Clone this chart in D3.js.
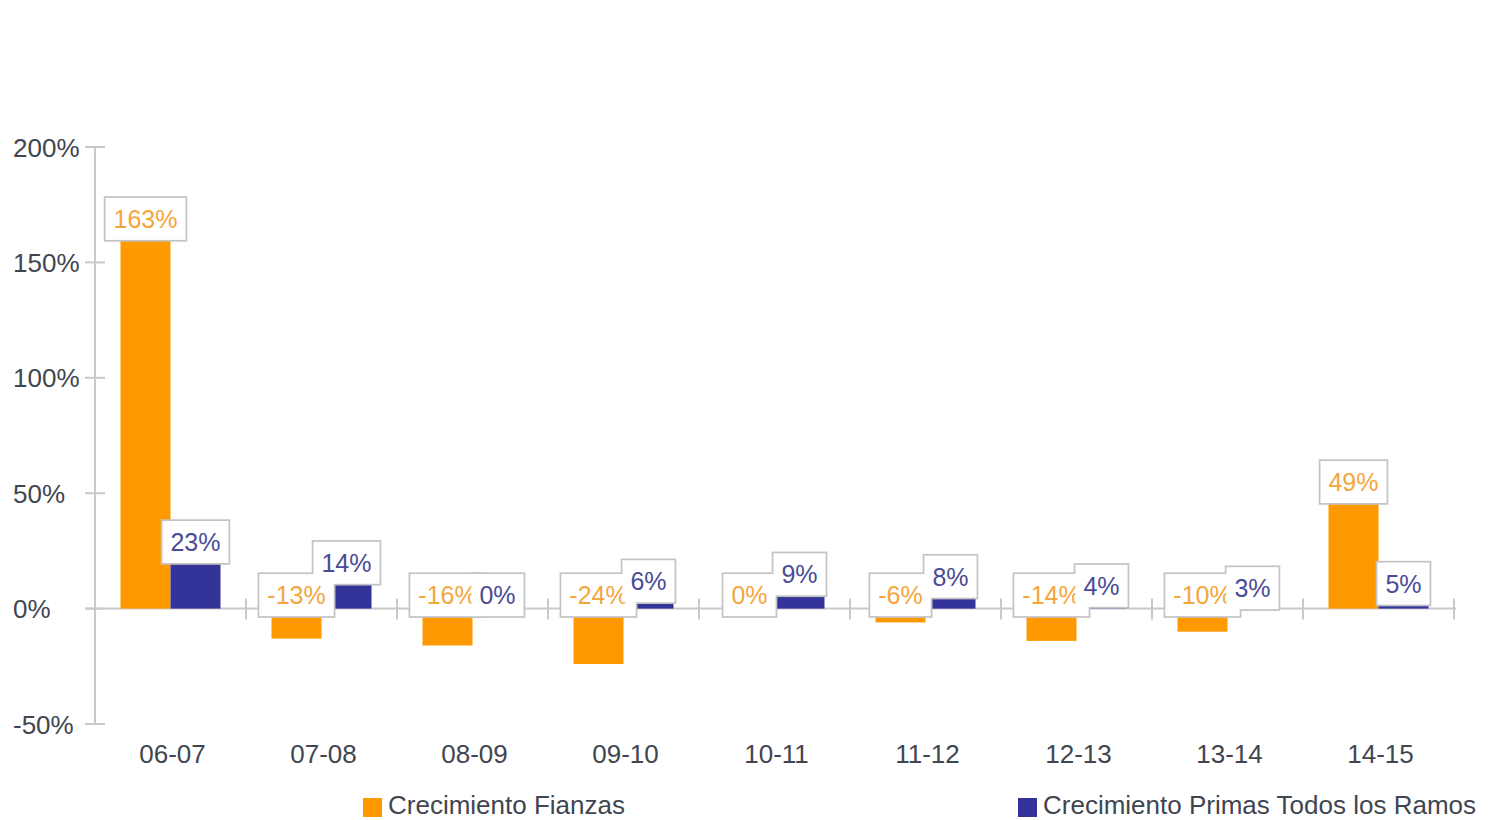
<!DOCTYPE html>
<html><head><meta charset="utf-8">
<script src="https://cdn.jsdelivr.net/npm/d3@7"></script>
<style>
body{margin:0;background:#fff;}
svg text{font-family:"Liberation Sans",Arial,sans-serif;}
</style></head>
<body><svg id="c" width="1491" height="820"></svg>
<script>
const categories = ["06-07","07-08","08-09","09-10","10-11","11-12","12-13","13-14","14-15"];
const fianzas = [163,-13,-16,-24,0,-6,-14,-10,49];
const primas = [23,14,0,6,9,8,4,3,5];
const seriesNames = ["Crecimiento Fianzas","Crecimiento Primas Todos los Ramos"];
const seriesColors = ["#ff9900","#333399"];
const labelColors = ["#f4a63c","#4b4b97"];
const yTicks = [-50,0,50,100,150,200];

const svg = d3.select("#c");
const axisColor = "#c9c9c9", textColor = "#3f4650";
const y = d3.scaleLinear().domain([-50,200]).range([724,147]);
const x = d3.scaleBand().domain(categories).range([95,1454]);
const x1 = d3.scaleBand().domain([0,1]).range([0,x.bandwidth()]).paddingOuter(0.51);
const data = categories.map((c,i)=>({c, v:[fianzas[i],primas[i]]}));

// y axis
const ya = svg.append("g").attr("transform","translate(95,0)")
  .call(d3.axisLeft(y).tickValues(yTicks).tickSize(0).tickFormat(d=>d+"%"));
ya.select(".domain").remove();
ya.selectAll("text").attr("x",-82).attr("text-anchor","start").attr("dy","0.35em")
  .attr("font-size",26).attr("fill",textColor).style("font-family",'"Liberation Sans",Arial,sans-serif');
svg.append("line").attr("x1",95).attr("x2",95).attr("y1",y(200)).attr("y2",y(-50)).attr("stroke",axisColor).attr("stroke-width",2);
svg.selectAll(".yt").data(yTicks).join("line").attr("x1",85).attr("x2",105)
  .attr("y1",d=>y(d)).attr("y2",d=>y(d)).attr("stroke",axisColor).attr("stroke-width",2);

// x axis
svg.append("line").attr("x1",85).attr("x2",1456).attr("y1",y(0)).attr("y2",y(0)).attr("stroke",axisColor).attr("stroke-width",2);
const edges = categories.map(c=>x(c)).concat([x.range()[1]]);
svg.selectAll(".xt").data(edges).join("line").attr("x1",d=>d).attr("x2",d=>d)
  .attr("y1",y(0)-10).attr("y2",y(0)+11).attr("stroke",axisColor).attr("stroke-width",2);
const xa = svg.append("g").attr("transform",`translate(0,${y(0)})`)
  .call(d3.axisBottom(x).tickSize(0));
xa.select(".domain").remove();
xa.selectAll("text").attr("y",154).attr("dy",0).attr("dx",2).attr("font-size",26).attr("fill",textColor)
  .style("font-family",'"Liberation Sans",Arial,sans-serif');

// bars
const groups = svg.append("g");
[0,1].forEach(s=>{
  groups.selectAll(".b"+s).data(data).join("rect")
    .attr("x",d=>x(d.c)+x1(s)).attr("width",x1.bandwidth())
    .attr("y",d=>y(Math.max(0,d.v[s]))).attr("height",d=>Math.abs(y(d.v[s])-y(0)))
    .attr("fill",seriesColors[s]);
});

// labels
const fs = 25;
const labels = [];
data.forEach(d=>{[0,1].forEach(s=>{
  const t = d.v[s]+"%";
  labels.push({s, t, cx:x(d.c)+x1(s)+x1.bandwidth()/2, bottom:y(Math.max(0,d.v[s]))+8});
});});
const meas = svg.append("text").attr("font-size",fs);
labels.forEach(l=>{meas.text(l.t); l.w = meas.node().getComputedTextLength()+17;});
meas.remove();
const H = 43;
const lg = svg.append("g");
lg.selectAll(".lb").data(labels).join("rect")
  .attr("x",l=>l.cx-l.w/2).attr("y",l=>l.bottom-H).attr("width",l=>l.w).attr("height",H)
  .attr("fill","#fff").attr("stroke","#c4c4c4").attr("stroke-width",2.5);
[0,1].forEach(s=>{
  const ls = labels.filter(l=>l.s===s);
  lg.selectAll(".lf"+s).data(ls).join("rect")
    .attr("x",l=>l.cx-l.w/2+0.5).attr("y",l=>l.bottom-H+0.5).attr("width",l=>l.w-1).attr("height",H-1)
    .attr("fill","#fff");
  lg.selectAll(".lt"+s).data(ls).join("text")
    .attr("x",l=>l.cx).attr("y",l=>l.bottom-H/2).attr("dy","0.36em").attr("text-anchor","middle")
    .attr("font-size",fs).attr("fill",labelColors[s]).text(l=>l.t);
});

// legend
const legX = [363,1018];
[0,1].forEach(s=>{
  svg.append("rect").attr("x",legX[s]).attr("y",798).attr("width",19).attr("height",19).attr("fill",seriesColors[s]);
  svg.append("text").attr("x",legX[s]+25).attr("y",814).attr("font-size",26).attr("fill",textColor).text(seriesNames[s]);
});
</script></body></html>
